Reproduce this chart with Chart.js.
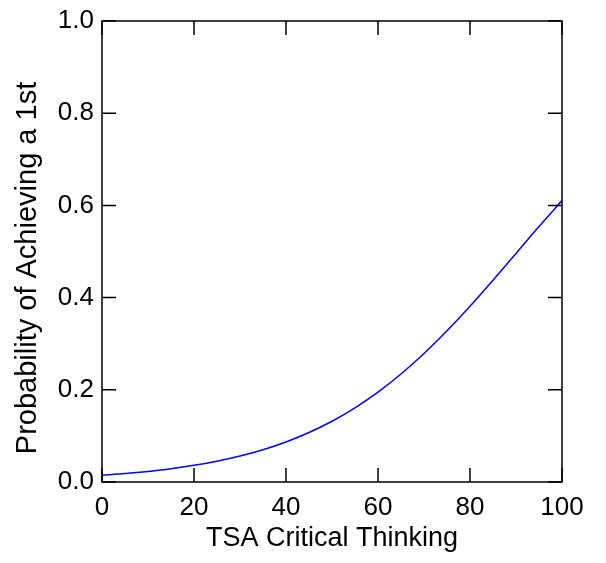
<!DOCTYPE html>
<html>
<head>
<meta charset="utf-8">
<script src="https://cdn.jsdelivr.net/npm/chart.js@4"></script>
<style>
  html, body { margin: 0; padding: 0; background: #fff; }
  #wrap { width: 606px; height: 563px; }
</style>
</head>
<body>
<div id="wrap"><canvas id="c" width="606" height="563"></canvas></div>
<script>
const xValues = [0, 5, 10, 15, 20, 25, 30, 35, 40, 45, 50, 55, 60, 65, 70, 75, 80, 85, 90, 95, 100];
const probValues = [0.0145, 0.0182, 0.0229, 0.0287, 0.0361, 0.0451, 0.0563, 0.0701, 0.0869, 0.1073, 0.1318, 0.1610, 0.1950, 0.2343, 0.2787, 0.3280, 0.3813, 0.4378, 0.4958, 0.5540, 0.6105];
const xTicks = [0, 20, 40, 60, 80, 100];
const yTicks = [0, 0.2, 0.4, 0.6, 0.8, 1.0];
const xTitle = 'TSA Critical Thinking';
const yTitle = 'Probability of Achieving a 1st';

const FONT = 'Liberation Sans, Arial, Helvetica, sans-serif';

const frameTicks = {
  id: 'frameTicks',
  afterDraw(chart) {
    const { ctx, chartArea: a, scales } = chart;
    const len = 14;
    ctx.save();
    ctx.strokeStyle = '#000';
    ctx.lineWidth = 1.5;
    ctx.beginPath();
    xTicks.forEach(v => {
      const px = scales.x.getPixelForValue(v);
      ctx.moveTo(px, a.bottom); ctx.lineTo(px, a.bottom - len);
      ctx.moveTo(px, a.top); ctx.lineTo(px, a.top + len);
    });
    yTicks.forEach(v => {
      const py = scales.y.getPixelForValue(v);
      ctx.moveTo(a.left, py); ctx.lineTo(a.left + len, py);
      ctx.moveTo(a.right, py); ctx.lineTo(a.right - len, py);
    });
    ctx.stroke();
    ctx.strokeRect(a.left, a.top, a.right - a.left, a.bottom - a.top);
    // y axis title
    ctx.translate(28, 268);
    ctx.rotate(-Math.PI / 2);
    ctx.fillStyle = '#000';
    ctx.font = '29px ' + FONT;
    ctx.textAlign = 'center';
    ctx.textBaseline = 'middle';
    ctx.fillText(yTitle, 0, 0);
    ctx.restore();
  }
};

new Chart(document.getElementById('c'), {
  type: 'line',
  data: {
    datasets: [{
      data: xValues.map((x, i) => ({ x: x, y: probValues[i] })),
      borderColor: '#0000ff',
      borderWidth: 1.5,
      pointRadius: 0,
      tension: 0.4,
      cubicInterpolationMode: 'monotone',
      fill: false
    }]
  },
  options: {
    responsive: false,
    animation: false,
    devicePixelRatio: 1,
    layout: { padding: { top: 21, right: 44, left: 0, bottom: 0 } },
    plugins: { legend: { display: false }, tooltip: { enabled: false } },
    scales: {
      x: {
        type: 'linear',
        min: 0, max: 100,
        afterBuildTicks(s) { s.ticks = xTicks.map(v => ({ value: v })); },
        afterFit(s) { s.height = 81; },
        grid: { display: false },
        border: { display: false },
        ticks: {
          color: '#000',
          font: { family: FONT, size: 26 },
          padding: 2,
          maxRotation: 0,
          callback: v => String(v)
        },
        title: {
          display: true,
          text: xTitle,
          color: '#000',
          font: { family: FONT, size: 27 },
          padding: { top: 0, bottom: 8 }
        }
      },
      y: {
        type: 'linear',
        min: 0, max: 1,
        afterBuildTicks(s) { s.ticks = yTicks.map(v => ({ value: v })); },
        afterFit(s) { s.width = 102; },
        grid: { display: false },
        border: { display: false },
        ticks: {
          color: '#000',
          font: { family: FONT, size: 26 },
          padding: 0,
          callback: v => v.toFixed(1)
        },
        title: { display: false }
      }
    }
  },
  plugins: [frameTicks]
});
</script>
</body>
</html>
